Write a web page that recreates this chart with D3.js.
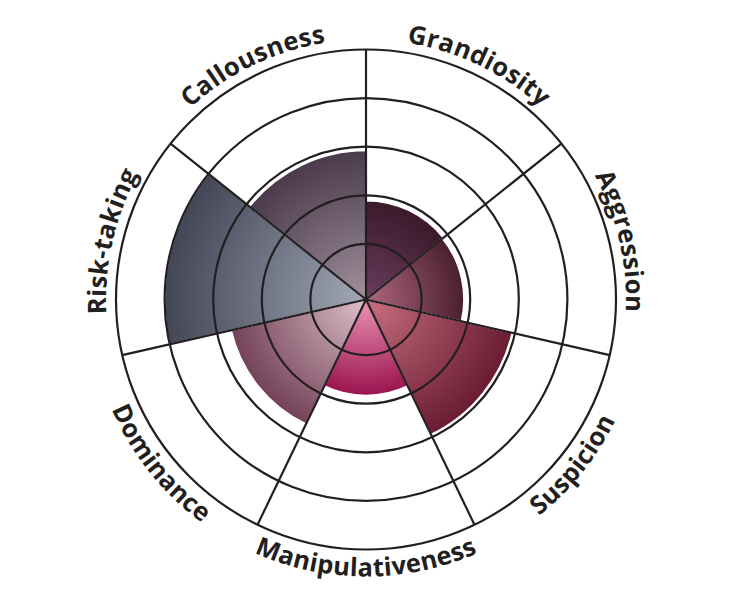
<!DOCTYPE html>
<html lang="en">
<head>
    <meta charset="UTF-8">
    <title>Trait Polar Chart</title>
    <script src="https://d3js.org/d3.v7.min.js"></script>
    <style>
        body { margin: 0; background: #fff; }
        text { font-family: "Open Sans", sans-serif; font-weight: 700; letter-spacing: 0.3px; }
    </style>
</head>
<body>
    <script>
        //data, clockwise from 12 o'clock
        const traits = ["Grandiosity", "Aggression", "Suspicion", "Manipulativeness", "Dominance", "Risk-taking", "Callousness"];
        const scores = [1.89, 1.87, 2.94, 1.83, 2.70, 4.0, 2.92];
        const ringLevels = [1, 2, 3, 4, 5];
        //gradient colours, centre -> rim
        const innerColors = ["#6b3d5e", "#b06880", "#c8707f", "#ea95b5", "#dcc0ca", "#a2a8b8", "#a3919f"];
        const outerColors = ["#3a1a2b", "#4a1f30", "#6a1c33", "#9c1450", "#744257", "#424656", "#4a3a4b"];

        //declare variables
        const w = 732;
        const h = 600;
        const cx = 366;
        const cy = 299.5;
        const step = 2 * Math.PI / traits.length;
        const ink = "#231f20";

        const svg = d3.select("body").append("svg")
            .attr("width", w)
            .attr("height", h);

        const defs = svg.append("defs");

        const g = svg.append("g")
            .attr("transform", "translate(" + cx + "," + cy + ")");

        //radial scale
        const rScale = d3.scaleLinear()
            .domain([0, 5])
            .range([7, 250]);

        //one radial gradient per sector
        traits.forEach(function(t, i) {
            const grad = defs.append("radialGradient")
                .attr("id", "grad" + i)
                .attr("gradientUnits", "userSpaceOnUse")
                .attr("cx", 0)
                .attr("cy", 0)
                .attr("r", rScale(scores[i]));
            grad.append("stop").attr("offset", "0%").attr("stop-color", innerColors[i]);
            grad.append("stop").attr("offset", "100%").attr("stop-color", outerColors[i]);
        });

        //sectors
        const arc = d3.arc()
            .innerRadius(0)
            .outerRadius(d => rScale(d.score))
            .startAngle(d => d.i * step)
            .endAngle(d => (d.i + 1) * step);

        g.selectAll("path.sector")
            .data(traits.map((t, i) => ({ trait: t, score: scores[i], i: i })))
            .enter()
            .append("path")
            .attr("class", "sector")
            .attr("d", arc)
            .attr("fill", d => "url(#grad" + d.i + ")")
            .attr("stroke", "#fff")
            .attr("stroke-width", 1.5);

        //rings
        g.selectAll("circle.ring")
            .data(ringLevels)
            .enter()
            .append("circle")
            .attr("class", "ring")
            .attr("r", d => rScale(d))
            .attr("fill", "none")
            .attr("stroke", ink)
            .attr("stroke-width", 2.2);

        //spokes
        g.selectAll("line.spoke")
            .data(traits)
            .enter()
            .append("line")
            .attr("class", "spoke")
            .attr("x1", 0)
            .attr("y1", 0)
            .attr("x2", (d, i) => rScale(5) * Math.sin(i * step))
            .attr("y2", (d, i) => -rScale(5) * Math.cos(i * step))
            .attr("stroke", ink)
            .attr("stroke-width", 2.2);

        //curved labels - top half runs clockwise, bottom half counter-clockwise
        const half = 1.1;
        traits.forEach(function(t, i) {
            const mid = (i + 0.5) * step;
            const bottom = mid > Math.PI / 2 && mid < Math.PI * 1.5;
            const p = d3.path();
            if (bottom) {
                p.arc(0, 0, rScale(5) + 27, mid + half - Math.PI / 2, mid - half - Math.PI / 2, true);
            } else {
                p.arc(0, 0, rScale(5) + 10, mid - half - Math.PI / 2, mid + half - Math.PI / 2, false);
            }
            defs.append("path")
                .attr("id", "lab" + i)
                .attr("d", p.toString());

            g.append("text")
                .attr("font-size", 25.5)
                .attr("fill", ink)
                .append("textPath")
                .attr("href", "#lab" + i)
                .attr("startOffset", "50%")
                .attr("text-anchor", "middle")
                .text(t);
        });
    </script>
</body>
</html>
